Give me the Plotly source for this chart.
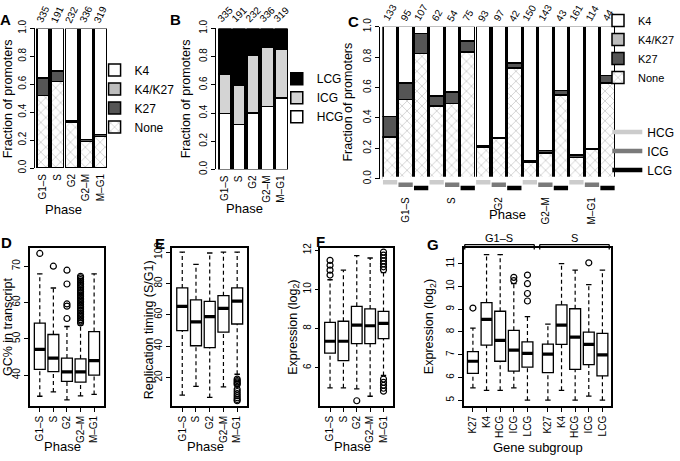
import plotly.graph_objects as go

W, H = 680, 461
FONT = "Liberation Sans, Arial, Helvetica, sans-serif"

# ---------------- data ----------------
phases = ["G1–S", "S", "G2", "G2–M", "M–G1"]

# Panel A: histone marks by phase (fractions)
a_counts = [335, 191, 232, 336, 319]
a_none = [0.52, 0.62, 0.33, 0.19, 0.225]
a_k27 = [0.125, 0.075, 0.005, 0.015, 0.015]
a_k4k27 = [0.0, 0.0, 0.0, 0.0, 0.0]
a_k4 = [0.355, 0.305, 0.665, 0.795, 0.76]

# Panel B: CpG class by phase
b_counts = [335, 191, 232, 336, 319]
b_hcg = [0.395, 0.32, 0.40, 0.445, 0.505]
b_icg = [0.28, 0.28, 0.41, 0.42, 0.35]
b_lcg = [0.325, 0.40, 0.19, 0.135, 0.145]

# Panel C: histone marks by phase x CpG class
c_phase = ["G1–S"] * 3 + ["S"] * 3 + ["G2"] * 3 + ["G2–M"] * 3 + ["M–G1"] * 3
c_cpg = ["HCG", "ICG", "LCG"] * 5
c_counts = [133, 95, 107, 62, 54, 75, 93, 97, 42, 150, 143, 43, 161, 114, 44]
c_none = [0.275, 0.52, 0.825, 0.48, 0.495, 0.835, 0.21, 0.265, 0.73, 0.105, 0.17, 0.55, 0.14, 0.195, 0.63]
c_k27 = [0.135, 0.11, 0.13, 0.065, 0.075, 0.07, 0.005, 0.005, 0.03, 0.01, 0.015, 0.03, 0.015, 0.005, 0.05]
c_k4k27 = [0.0] * 15
c_k4 = [0.59, 0.37, 0.045, 0.455, 0.43, 0.095, 0.785, 0.73, 0.24, 0.885, 0.815, 0.42, 0.845, 0.80, 0.32]

# Panel D: GC% in transcript (box stats)
d_low = [34.2, 35.4, 33.2, 34.3, 34.7]
d_q1 = [41.6, 41.0, 38.3, 38.1, 40.0]
d_med = [47.1, 44.7, 40.9, 40.9, 44.0]
d_q3 = [54.3, 51.2, 44.7, 44.5, 52.0]
d_high = [67.9, 64.0, 53.4, 53.8, 67.9]
d_out = [[73.5], [70.0], [55.6, 59.0, 59.6, 65.1, 68.9],
         [54.4, 54.9, 55.3, 55.8, 56.2, 56.7, 57.1, 57.6, 58.0, 58.5, 59.0, 59.4, 59.9, 60.3,
          60.8, 61.2, 61.7, 62.1, 62.6, 63.0, 63.5, 64.0, 64.4, 64.9, 65.3, 65.8, 66.3, 66.8, 67.2],
         []]

# Panel E: replication timing
e_low = [8.7, 14.3, 7.2, 13.9, 22.0]
e_q1 = [49.9, 40.2, 39.0, 48.9, 54.1]
e_med = [65.4, 55.5, 58.8, 64.0, 68.7]
e_q3 = [77.1, 69.5, 68.5, 72.2, 77.1]
e_high = [100.0, 92.2, 99.4, 100.0, 100.0]
e_out = [[], [], [], [], [18.9, 18.0, 17.1, 16.3, 15.5, 12.4, 11.0, 9.6, 8.3, 7.0, 5.9, 5.1]]

# Panel F: expression by phase
f_low = [4.97, 4.97, 4.92, 4.54, 5.6]
f_q1 = [6.74, 6.36, 7.23, 7.23, 7.48]
f_med = [7.35, 7.35, 8.17, 8.14, 8.26]
f_q3 = [8.31, 8.37, 9.13, 9.0, 8.87]
f_high = [10.49, 10.98, 11.72, 11.6, 10.85]
f_out = [[10.73, 10.98, 11.23, 11.48], [], [4.31], [],
         [11.9, 11.75, 11.6, 11.45, 11.3, 11.15, 11.0, 5.42, 5.25, 5.1, 4.95, 4.8]]

# Panel G: expression by gene subgroup
g_group = ["G1–S"] * 5 + ["S"] * 5
g_labels = ["K27", "K4", "HCG", "ICG", "LCG", "K27", "K4", "HCG", "ICG", "LCG"]
g_pos = [1, 2, 3, 4, 5, 6.5, 7.5, 8.5, 9.5, 10.5]
g_low = [5.54, 5.43, 5.43, 5.54, 5.0, 5.0, 5.43, 5.0, 5.18, 5.0]
g_q1 = [6.18, 7.42, 6.71, 6.28, 6.45, 6.21, 7.45, 6.35, 6.56, 6.07]
g_med = [6.71, 8.55, 7.63, 7.2, 7.06, 7.02, 8.3, 7.77, 7.45, 6.99]
g_q3 = [7.13, 9.29, 8.91, 8.07, 7.56, 7.46, 9.19, 9.02, 7.99, 7.94]
g_high = [8.17, 11.4, 11.4, 10.12, 8.67, 8.34, 11.0, 10.72, 10.08, 10.72]
g_out = [[9.05], [], [], [10.4, 10.26], [10.5, 10.12, 9.69, 9.36], [], [], [], [11.04], []]

# ---------------- helpers ----------------
def px(x):
    return x / W

def py(y):
    return 1 - y / H

def xd(a, b):
    return [px(a), px(b)]

def yd(top, bottom):
    return [py(bottom), py(top)]

MARK_STYLE = {
    "None": dict(color="white", pattern=dict(shape="x", fgcolor="#8c8c8c", bgcolor="white", size=7, solidity=0.2)),
    "K27": dict(color="#555555"),
    "K4/K27": dict(color="#bdbdbd"),
    "K4": dict(color="white"),
}
CPG_FILL = {"HCG": "white", "ICG": "#d4d4d4", "LCG": "black"}
CPG_LINE = {"HCG": "#cccccc", "ICG": "#7a7a7a", "LCG": "black"}
BAR_LINE = dict(color="black", width=1.5)

fig = go.Figure()

# ---------------- Panel A ----------------
for name, vals in [("None", a_none), ("K27", a_k27), ("K4/K27", a_k4k27), ("K4", a_k4)]:
    fig.add_trace(go.Bar(x=phases, y=vals, name=name, xaxis="x", yaxis="y",
                         marker=dict(**MARK_STYLE[name], line=BAR_LINE),
                         legend="legend", hoverinfo="skip"))

# ---------------- Panel B ----------------
for name, vals in [("HCG", b_hcg), ("ICG", b_icg), ("LCG", b_lcg)]:
    fig.add_trace(go.Bar(x=phases, y=vals, name=name, xaxis="x2", yaxis="y2",
                         marker=dict(color=CPG_FILL[name], line=BAR_LINE),
                         legend="legend2", hoverinfo="skip"))

# ---------------- Panel C ----------------
c_x = list(range(len(c_counts)))
for name, vals in [("None", c_none), ("K27", c_k27), ("K4/K27", c_k4k27), ("K4", c_k4)]:
    fig.add_trace(go.Bar(x=c_x, y=vals, name=name, xaxis="x3", yaxis="y3", width=0.9,
                         marker=dict(**MARK_STYLE[name], line=BAR_LINE),
                         legend="legend3", hoverinfo="skip"))

IND_LEVEL = {"HCG": 10.2, "ICG": 7.8, "LCG": 4.5}
for cls in ["HCG", "ICG", "LCG"]:
    xs, ys = [], []
    for i, c in zip(c_x, c_cpg):
        if c == cls:
            xs += [i - 0.46, i + 0.46, None]
            ys += [IND_LEVEL[cls], IND_LEVEL[cls], None]
    fig.add_trace(go.Scatter(x=xs, y=ys, mode="lines", name=cls, xaxis="x4", yaxis="y4",
                             line=dict(color=CPG_LINE[cls], width=4.5),
                             legend="legend4", hoverinfo="skip"))

# ---------------- box panels ----------------
def add_boxes(xa, ya, pos, low, q1, med, q3, high, outs, width=0.8):
    fig.add_trace(go.Box(x=pos, q1=q1, median=med, q3=q3, lowerfence=q1, upperfence=q3,
                         width=width, whiskerwidth=0, fillcolor="white",
                         line=dict(color="black", width=1.3), boxpoints=False,
                         showlegend=False, xaxis=xa, yaxis=ya, hoverinfo="skip"))
    wx, wy, sx, sy, mx, my, ox, oy = [], [], [], [], [], [], [], []
    for p, lo, a, m, b, hi, o in zip(pos, low, q1, med, q3, high, outs):
        wx += [p, p, None, p, p, None]
        wy += [lo, a, None, b, hi, None]
        sx += [p - 0.2, p + 0.2, None, p - 0.2, p + 0.2, None]
        sy += [lo, lo, None, hi, hi, None]
        mx += [p - width / 2, p + width / 2, None]
        my += [m, m, None]
        ox += [p] * len(o)
        oy += o
    fig.add_trace(go.Scatter(x=wx, y=wy, mode="lines", xaxis=xa, yaxis=ya, showlegend=False,
                             line=dict(color="black", width=1.2, dash="4px,3px"), hoverinfo="skip"))
    fig.add_trace(go.Scatter(x=sx, y=sy, mode="lines", xaxis=xa, yaxis=ya, showlegend=False,
                             line=dict(color="black", width=1.3), hoverinfo="skip"))
    fig.add_trace(go.Scatter(x=mx, y=my, mode="lines", xaxis=xa, yaxis=ya, showlegend=False,
                             line=dict(color="black", width=3.2), hoverinfo="skip"))
    fig.add_trace(go.Scatter(x=ox, y=oy, mode="markers", xaxis=xa, yaxis=ya, showlegend=False,
                             marker=dict(symbol="circle-open", size=6, color="black", line=dict(width=1.2)),
                             hoverinfo="skip"))

ph_pos = [1, 2, 3, 4, 5]
add_boxes("x5", "y5", ph_pos, d_low, d_q1, d_med, d_q3, d_high, d_out)
add_boxes("x6", "y6", ph_pos, e_low, e_q1, e_med, e_q3, e_high, e_out)
add_boxes("x7", "y7", ph_pos, f_low, f_q1, f_med, f_q3, f_high, f_out)
add_boxes("x8", "y8", g_pos, g_low, g_q1, g_med, g_q3, g_high, g_out)

# ---------------- layout ----------------
TICKF = dict(family=FONT, size=10, color="black")

def bar_y(top, bottom, linepos):
    return dict(domain=yd(top, bottom), range=[0, 1], anchor="free", position=px(linepos),
                showline=True, linecolor="black", linewidth=1, ticks="outside", ticklen=4,
                tickcolor="black", tickvals=[0, 0.2, 0.4, 0.6, 0.8, 1.0], tickformat=".1f",
                tickangle=-90, tickfont=TICKF, showgrid=False, zeroline=False, fixedrange=True)

def bar_x(a, b, anchor):
    return dict(domain=xd(a, b), anchor=anchor, type="category", range=[-0.5, 4.5],
                showline=False, ticks="", tickangle=-90, tickfont=TICKF, showgrid=False,
                zeroline=False, ticklabelstandoff=3)

def box_x(a, b, anchor, rng, vals, text):
    return dict(domain=xd(a, b), anchor=anchor, range=rng, showline=True, mirror=True,
                linecolor="black", linewidth=1.5, ticks="outside", ticklen=4, tickcolor="black",
                tickvals=vals, ticktext=text, tickangle=-90, tickfont=TICKF, showgrid=False,
                zeroline=False)

def box_y(anchor, rng, vals):
    return dict(domain=yd(246.5, 409.5), anchor=anchor, range=rng, showline=True, mirror=True,
                linecolor="black", linewidth=1.5, ticks="outside", ticklen=4, tickcolor="black",
                tickvals=vals, tickangle=-90, tickfont=TICKF, showgrid=False, zeroline=False)

def legend_cfg(x, top, order, size=12):
    return dict(bgcolor="rgba(0,0,0,0)", font=dict(family=FONT, size=size, color="black"),
                xanchor="left", yanchor="top", tracegroupgap=0, itemclick=False,
                itemdoubleclick=False, x=px(x), y=py(top), traceorder=order)

fig.update_layout(
    width=W, height=H, margin=dict(l=0, r=0, t=0, b=0),
    paper_bgcolor="white", plot_bgcolor="white",
    font=dict(family=FONT, size=12, color="black"),
    barmode="stack", bargap=0.13,
    xaxis=bar_x(36, 108, "y"),
    yaxis=bar_y(20, 164, 34),
    xaxis2=bar_x(219, 289.5, "y2"),
    yaxis2=bar_y(20, 165.5, 216),
    xaxis3=dict(domain=xd(384, 618), anchor="y3", range=[-0.5, 14.5], showticklabels=False,
                showline=False, ticks="", showgrid=False, zeroline=False),
    yaxis3=bar_y(18.3, 175, 381),
    xaxis4=dict(domain=xd(384, 618), anchor="y4", range=[-0.5, 14.5], showline=False, ticks="",
                tickvals=[i for i, c in zip(c_x, c_cpg) if c == "ICG"],
                ticktext=[p for p, c in zip(c_phase, c_cpg) if c == "ICG"],
                tickangle=-90, tickfont=TICKF, showgrid=False, zeroline=False, ticklabelstandoff=2),
    yaxis4=dict(domain=yd(173, 189), anchor="x4", range=[0, 16], visible=False),
    xaxis5=box_x(30, 104.5, "y5", [0.27, 5.73], ph_pos, phases),
    yaxis5=box_y("x5", [31.5, 75.0], [40, 50, 60, 70]),
    xaxis6=box_x(173, 248.3, "y6", [0.27, 5.73], ph_pos, phases),
    yaxis6=box_y("x6", [1.7, 102.6], [20, 40, 60, 80, 100]),
    xaxis7=box_x(321.7, 395, "y7", [0.27, 5.73], ph_pos, phases),
    yaxis7=box_y("x7", [4.04, 12.11], [6, 8, 10, 12]),
    xaxis8=box_x(465.7, 613.3, "y8", [0.32, 11.1], g_pos, g_labels),
    yaxis8=box_y("x8", [4.74, 11.69], [5, 6, 7, 8, 9, 10, 11]),
    legend=legend_cfg(95, 48, "reversed"),
    legend2=legend_cfg(278, 57, "reversed"),
    legend3=legend_cfg(601, -3, "reversed", 11),
    legend4=legend_cfg(610, 112, "normal"),
)

ann = []
CNT = dict(family=FONT, size=10, color="black")
for p, n in zip(phases, a_counts):
    ann.append(dict(x=p, y=1, xref="x", yref="y", text=str(n), textangle=-65, showarrow=False,
                    xanchor="center", yanchor="bottom", yshift=1, font=CNT))
for p, n in zip(phases, b_counts):
    ann.append(dict(x=p, y=1, xref="x2", yref="y2", text=str(n), textangle=-45, showarrow=False,
                    xanchor="center", yanchor="bottom", yshift=1, font=CNT))
for i, n in zip(c_x, c_counts):
    ann.append(dict(x=i, y=1, xref="x3", yref="y3", text=str(n), textangle=-60, showarrow=False,
                    xanchor="center", yanchor="bottom", yshift=1, font=CNT))

TITLEF = dict(family=FONT, size=13, color="black")
YTF = dict(family=FONT, size=12.5, color="black")
def pa(x, y, text, angle=0, font=TITLEF):
    ann.append(dict(x=px(x), y=py(y), xref="paper", yref="paper", text=text, textangle=angle,
                    showarrow=False, xanchor="center", yanchor="middle", font=font))

# axis titles
pa(64, 207, "Phase"); pa(246, 206, "Phase"); pa(510, 212, "Phase")
pa(63, 451, "Phase"); pa(206, 451, "Phase"); pa(354, 451, "Phase"); pa(540, 452, "Gene subgroup")
pa(8, 92, "Fraction of promoters", -90, YTF)
pa(187, 93, "Fraction of promoters", -90, YTF)
pa(350, 96, "Fraction of promoters", -90, YTF)
pa(8, 328, "GC% in transcript", -90, YTF)
pa(150, 331, "Replication timing (S/G1)", -90, YTF)
pa(295, 328, "Expression (log<sub>2</sub>)", -90, YTF)
pa(432, 328, "Expression (log<sub>2</sub>)", -90, YTF)

# panel letters
LETF = dict(family=FONT, size=15, color="black")
for x, y, t in [(6, 11, "A"), (176, 11, "B"), (355, 13, "C"), (7, 241, "D"), (161, 242, "E"),
                (322, 240, "F"), (435, 243, "G")]:
    pa(x, y, "<b>%s</b>" % t, 0, LETF)

# G group brackets
shapes = []
for grp in ["G1–S", "S"]:
    ps = [p for p, g in zip(g_pos, g_group) if g == grp]
    x0, x1 = min(ps) - 0.6, max(ps) + 0.5
    for (xa, ya, xb, yb) in [(x0, 243, x1, 243), (x0, 243, x0, 248), (x1, 243, x1, 248)]:
        shapes.append(dict(type="line", xref="x8", yref="paper", x0=xa, x1=xb, y0=py(ya), y1=py(yb),
                           line=dict(color="black", width=1.3)))
    ann.append(dict(x=(x0 + x1) / 2, y=py(236), xref="x8", yref="paper", text=grp, showarrow=False,
                    xanchor="center", yanchor="middle", font=dict(family=FONT, size=11, color="black")))

fig.update_layout(annotations=ann, shapes=shapes)
fig.write_html("out.html", config={"displayModeBar": False},
               post_script="document.body.style.margin='0';document.body.style.overflow='hidden';")
